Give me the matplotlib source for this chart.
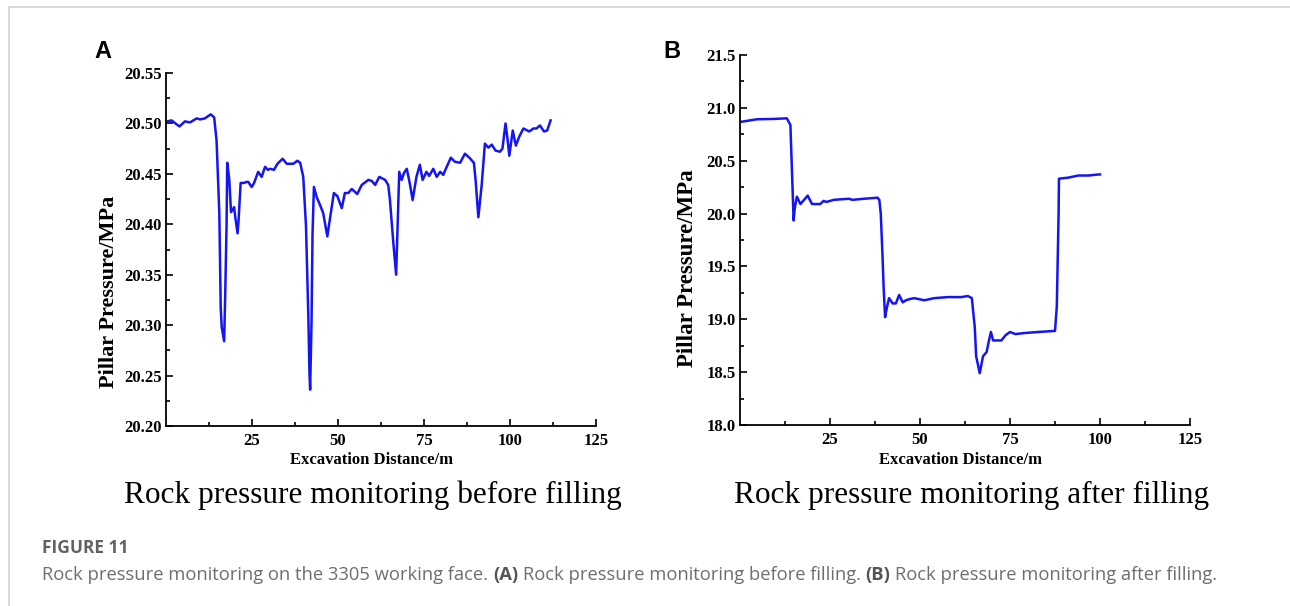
import matplotlib
matplotlib.use("Agg")
import matplotlib.pyplot as plt
from matplotlib.lines import Line2D
from matplotlib.ticker import FixedLocator, FormatStrFormatter

# ---- data: pillar pressure (MPa) vs excavation distance (m) ----
before_x = [0.4, 1.6, 3.9, 5.5, 7.0, 8.9, 9.9, 11.3, 13.0, 14.0, 14.7, 15.5, 15.9, 16.2,
            16.9, 17.2, 17.6, 17.8, 18.4, 18.9, 19.8, 20.1, 20.8, 21.1, 21.7, 22.7, 23.4,
            23.9, 24.9, 25.6, 26.8, 27.8, 28.8, 29.6, 30.3, 31.4, 32.4, 33.9, 35.1, 37.0,
            38.2, 39.0, 39.9, 40.7, 41.4, 41.7, 41.9, 42.3, 42.6, 43.0, 43.8, 44.8, 45.7,
            46.9, 47.9, 48.8, 49.8, 51.1, 52.0, 53.0, 54.0, 55.6, 56.9, 58.8, 59.8, 60.8,
            62.0, 63.7, 64.6, 65.1, 66.1, 66.9, 67.2, 67.8, 68.5, 69.2, 70.0, 70.9, 71.7,
            72.8, 73.8, 74.6, 75.7, 76.5, 77.7, 78.7, 79.7, 80.6, 81.6, 82.8, 84.0, 85.5,
            86.9, 88.2, 89.5, 90.0, 90.8, 91.8, 92.7, 93.7, 94.7, 95.8, 97.1, 97.8, 98.7,
            99.3, 99.8, 100.8, 101.7, 102.7, 103.9, 105.6, 106.8, 107.7, 108.7, 109.9,
            110.8, 111.8]
before_p = [20.502, 20.503, 20.497, 20.502, 20.501, 20.505, 20.504, 20.505, 20.509, 20.506,
            20.483, 20.411, 20.318, 20.298, 20.284, 20.328, 20.398, 20.461, 20.444, 20.412,
            20.417, 20.408, 20.391, 20.404, 20.441, 20.441, 20.442, 20.442, 20.437, 20.441,
            20.452, 20.447, 20.457, 20.454, 20.455, 20.454, 20.460, 20.465, 20.460, 20.460,
            20.463, 20.461, 20.447, 20.398, 20.305, 20.253, 20.236, 20.302, 20.391, 20.437,
            20.427, 20.419, 20.411, 20.388, 20.411, 20.431, 20.428, 20.416, 20.431, 20.431,
            20.435, 20.430, 20.439, 20.444, 20.443, 20.439, 20.447, 20.444, 20.439, 20.424,
            20.381, 20.350, 20.384, 20.452, 20.444, 20.451, 20.455, 20.440, 20.424, 20.447,
            20.459, 20.444, 20.452, 20.448, 20.455, 20.447, 20.452, 20.449, 20.457, 20.466,
            20.462, 20.461, 20.470, 20.466, 20.461, 20.444, 20.407, 20.440, 20.480, 20.476,
            20.479, 20.473, 20.472, 20.475, 20.500, 20.484, 20.468, 20.493, 20.478, 20.487,
            20.495, 20.492, 20.495, 20.495, 20.498, 20.492, 20.493, 20.503]

after_x = [0.5, 4.7, 9.3, 13.0, 14.0, 14.3, 14.9, 15.2, 15.8, 16.8, 18.8, 20.0, 22.3, 23.2,
           24.0, 26.1, 30.3, 31.2, 34.4, 38.2, 38.7, 39.1, 39.6, 39.9, 40.3, 40.8, 41.4,
           42.4, 43.3, 44.2, 45.2, 46.1, 47.0, 48.4, 51.2, 54.0, 57.7, 61.5, 63.3, 64.4,
           65.2, 65.6, 66.6, 67.5, 68.5, 69.1, 69.7, 70.3, 71.7, 72.6, 73.8, 75.0, 76.5,
           79.1, 82.9, 87.5, 88.0, 88.5, 88.6, 91.2, 94.0, 96.8, 99.6, 100.0]
after_p = [20.869, 20.892, 20.895, 20.901, 20.838, 20.538, 19.935, 20.05, 20.16, 20.09,
           20.17, 20.09, 20.09, 20.12, 20.11, 20.13, 20.14, 20.13, 20.14, 20.15, 20.13,
           20.00, 19.59, 19.30, 19.02, 19.11, 19.20, 19.15, 19.15, 19.23, 19.16, 19.18,
           19.19, 19.20, 19.18, 19.20, 19.21, 19.21, 19.22, 19.20, 18.93, 18.65, 18.49,
           18.65, 18.69, 18.79, 18.88, 18.80, 18.80, 18.80, 18.85, 18.88, 18.86, 18.87,
           18.88, 18.89, 19.12, 20.00, 20.33, 20.34, 20.36, 20.36, 20.37, 20.37]

x_ticks = [25, 50, 75, 100, 125]
x_minor = [12.5, 37.5, 62.5, 87.5, 112.5]
before_yticks = [20.20, 20.25, 20.30, 20.35, 20.40, 20.45, 20.50, 20.55]
after_yticks = [18.0, 18.5, 19.0, 19.5, 20.0, 20.5, 21.0, 21.5]

x_title = "Excavation Distance/m"
y_title = "Pillar Pressure/MPa"
panel_titles = ["Rock pressure monitoring before filling",
                "Rock pressure monitoring after filling"]

W, H = 1290, 606
fig = plt.figure(figsize=(W / 100, H / 100), dpi=100)
fig.patch.set_facecolor("white")


def fx(px):
    return px / W


def fy(py):
    return 1 - py / H


SERIF = "Liberation Serif"
LINE_BLUE = "#1414f5"


def draw_panel(rect, xs, ys, yticks, fmt, xlab_xy, ylab_xy, ylab_size):
    ax = fig.add_axes(rect)
    ax.plot(xs, ys, color=LINE_BLUE, lw=1.8, solid_joinstyle="round")
    ax.set_xlim(0, 125)
    ax.set_ylim(yticks[0], yticks[-1])
    for s in ("top", "right"):
        ax.spines[s].set_visible(False)
    for s in ("left", "bottom"):
        ax.spines[s].set_linewidth(1.3)
    ax.xaxis.set_major_locator(FixedLocator(x_ticks))
    ax.xaxis.set_minor_locator(FixedLocator(x_minor))
    ax.yaxis.set_major_locator(FixedLocator(yticks))
    ax.yaxis.set_minor_locator(FixedLocator(
        [(a + b) / 2 for a, b in zip(yticks[:-1], yticks[1:])]))
    ax.yaxis.set_major_formatter(FormatStrFormatter(fmt))
    ax.tick_params(which="both", direction="in", width=1.2, color="black")
    ax.tick_params(which="major", length=5)
    ax.tick_params(which="minor", length=3)
    ax.tick_params(axis="x", pad=5)
    ax.tick_params(axis="y", pad=3)
    for lbl in ax.get_xticklabels() + ax.get_yticklabels():
        lbl.set_fontfamily(SERIF)
        lbl.set_fontweight("bold")
        lbl.set_fontsize(12)
    ax.set_xlabel(x_title, family=SERIF, weight="bold", fontsize=12)
    ax.xaxis.label.set_va("center")
    ax.xaxis.set_label_coords(*xlab_xy)
    ax.set_ylabel(y_title, family=SERIF, weight="bold", fontsize=ylab_size)
    ax.yaxis.label.set_va("center")
    ax.yaxis.set_label_coords(*ylab_xy)
    return ax


axA = draw_panel([fx(166), fy(426), fx(596) - fx(166), fy(73) - fy(426)],
                 before_x, before_p, before_yticks, "%.2f",
                 (0.479, -0.096), (-0.133, 0.380), 16)
axB = draw_panel([fx(740), fy(425), fx(1190) - fx(740), fy(55) - fy(425)],
                 after_x, after_p, after_yticks, "%.1f",
                 (0.489, -0.095), (-0.116, 0.424), 16.5)

# panel letters
fig.text(fx(103), fy(52), "A", ha="center", va="center",
         family="Liberation Sans", weight="bold", fontsize=17)
fig.text(fx(672), fy(52), "B", ha="center", va="center",
         family="Liberation Sans", weight="bold", fontsize=17)

# sub-captions under each panel
fig.text(fx(373), fy(503), panel_titles[0], ha="center", va="baseline",
         family=SERIF, fontsize=22.5, color="black")
fig.text(fx(972), fy(503), panel_titles[1], ha="center", va="baseline",
         family=SERIF, fontsize=22.5, color="black")

# figure caption block
CAP_FONT = "Open Sans"
CAP_GREY = "#6e6e6e"
CAP_SIZE = 13.2
fig.text(fx(42), fy(553), "FIGURE 11", ha="left", va="baseline",
         family=CAP_FONT, weight="bold", fontsize=12.5, color="#626262")

pieces = [("Rock pressure monitoring on the 3305 working face.", "normal"),
          ("(A)", "bold"),
          ("Rock pressure monitoring before filling.", "normal"),
          ("(B)", "bold"),
          ("Rock pressure monitoring after filling.", "normal")]

renderer = fig.canvas.get_renderer()
probe = fig.text(0, 0, "a a", family=CAP_FONT, fontsize=CAP_SIZE)
w_two = probe.get_window_extent(renderer).width
probe.set_text("aa")
space_w = w_two - probe.get_window_extent(renderer).width
probe.remove()

cursor = 42.0
for txt, wt in pieces:
    t = fig.text(fx(cursor), fy(580), txt, ha="left", va="baseline",
                 family=CAP_FONT, weight=wt, fontsize=CAP_SIZE,
                 color="#555555" if wt == "bold" else CAP_GREY)
    cursor += t.get_window_extent(renderer).width + space_w

# thin frame lines along the top and left edges
fig.add_artist(Line2D([fx(9), 1.0], [fy(7), fy(7)], color="#d2d2d2", lw=1.2))
fig.add_artist(Line2D([fx(9), fx(9)], [fy(7), 0.0], color="#d2d2d2", lw=1.2))

fig.savefig("out.png", dpi=100, facecolor="white")
